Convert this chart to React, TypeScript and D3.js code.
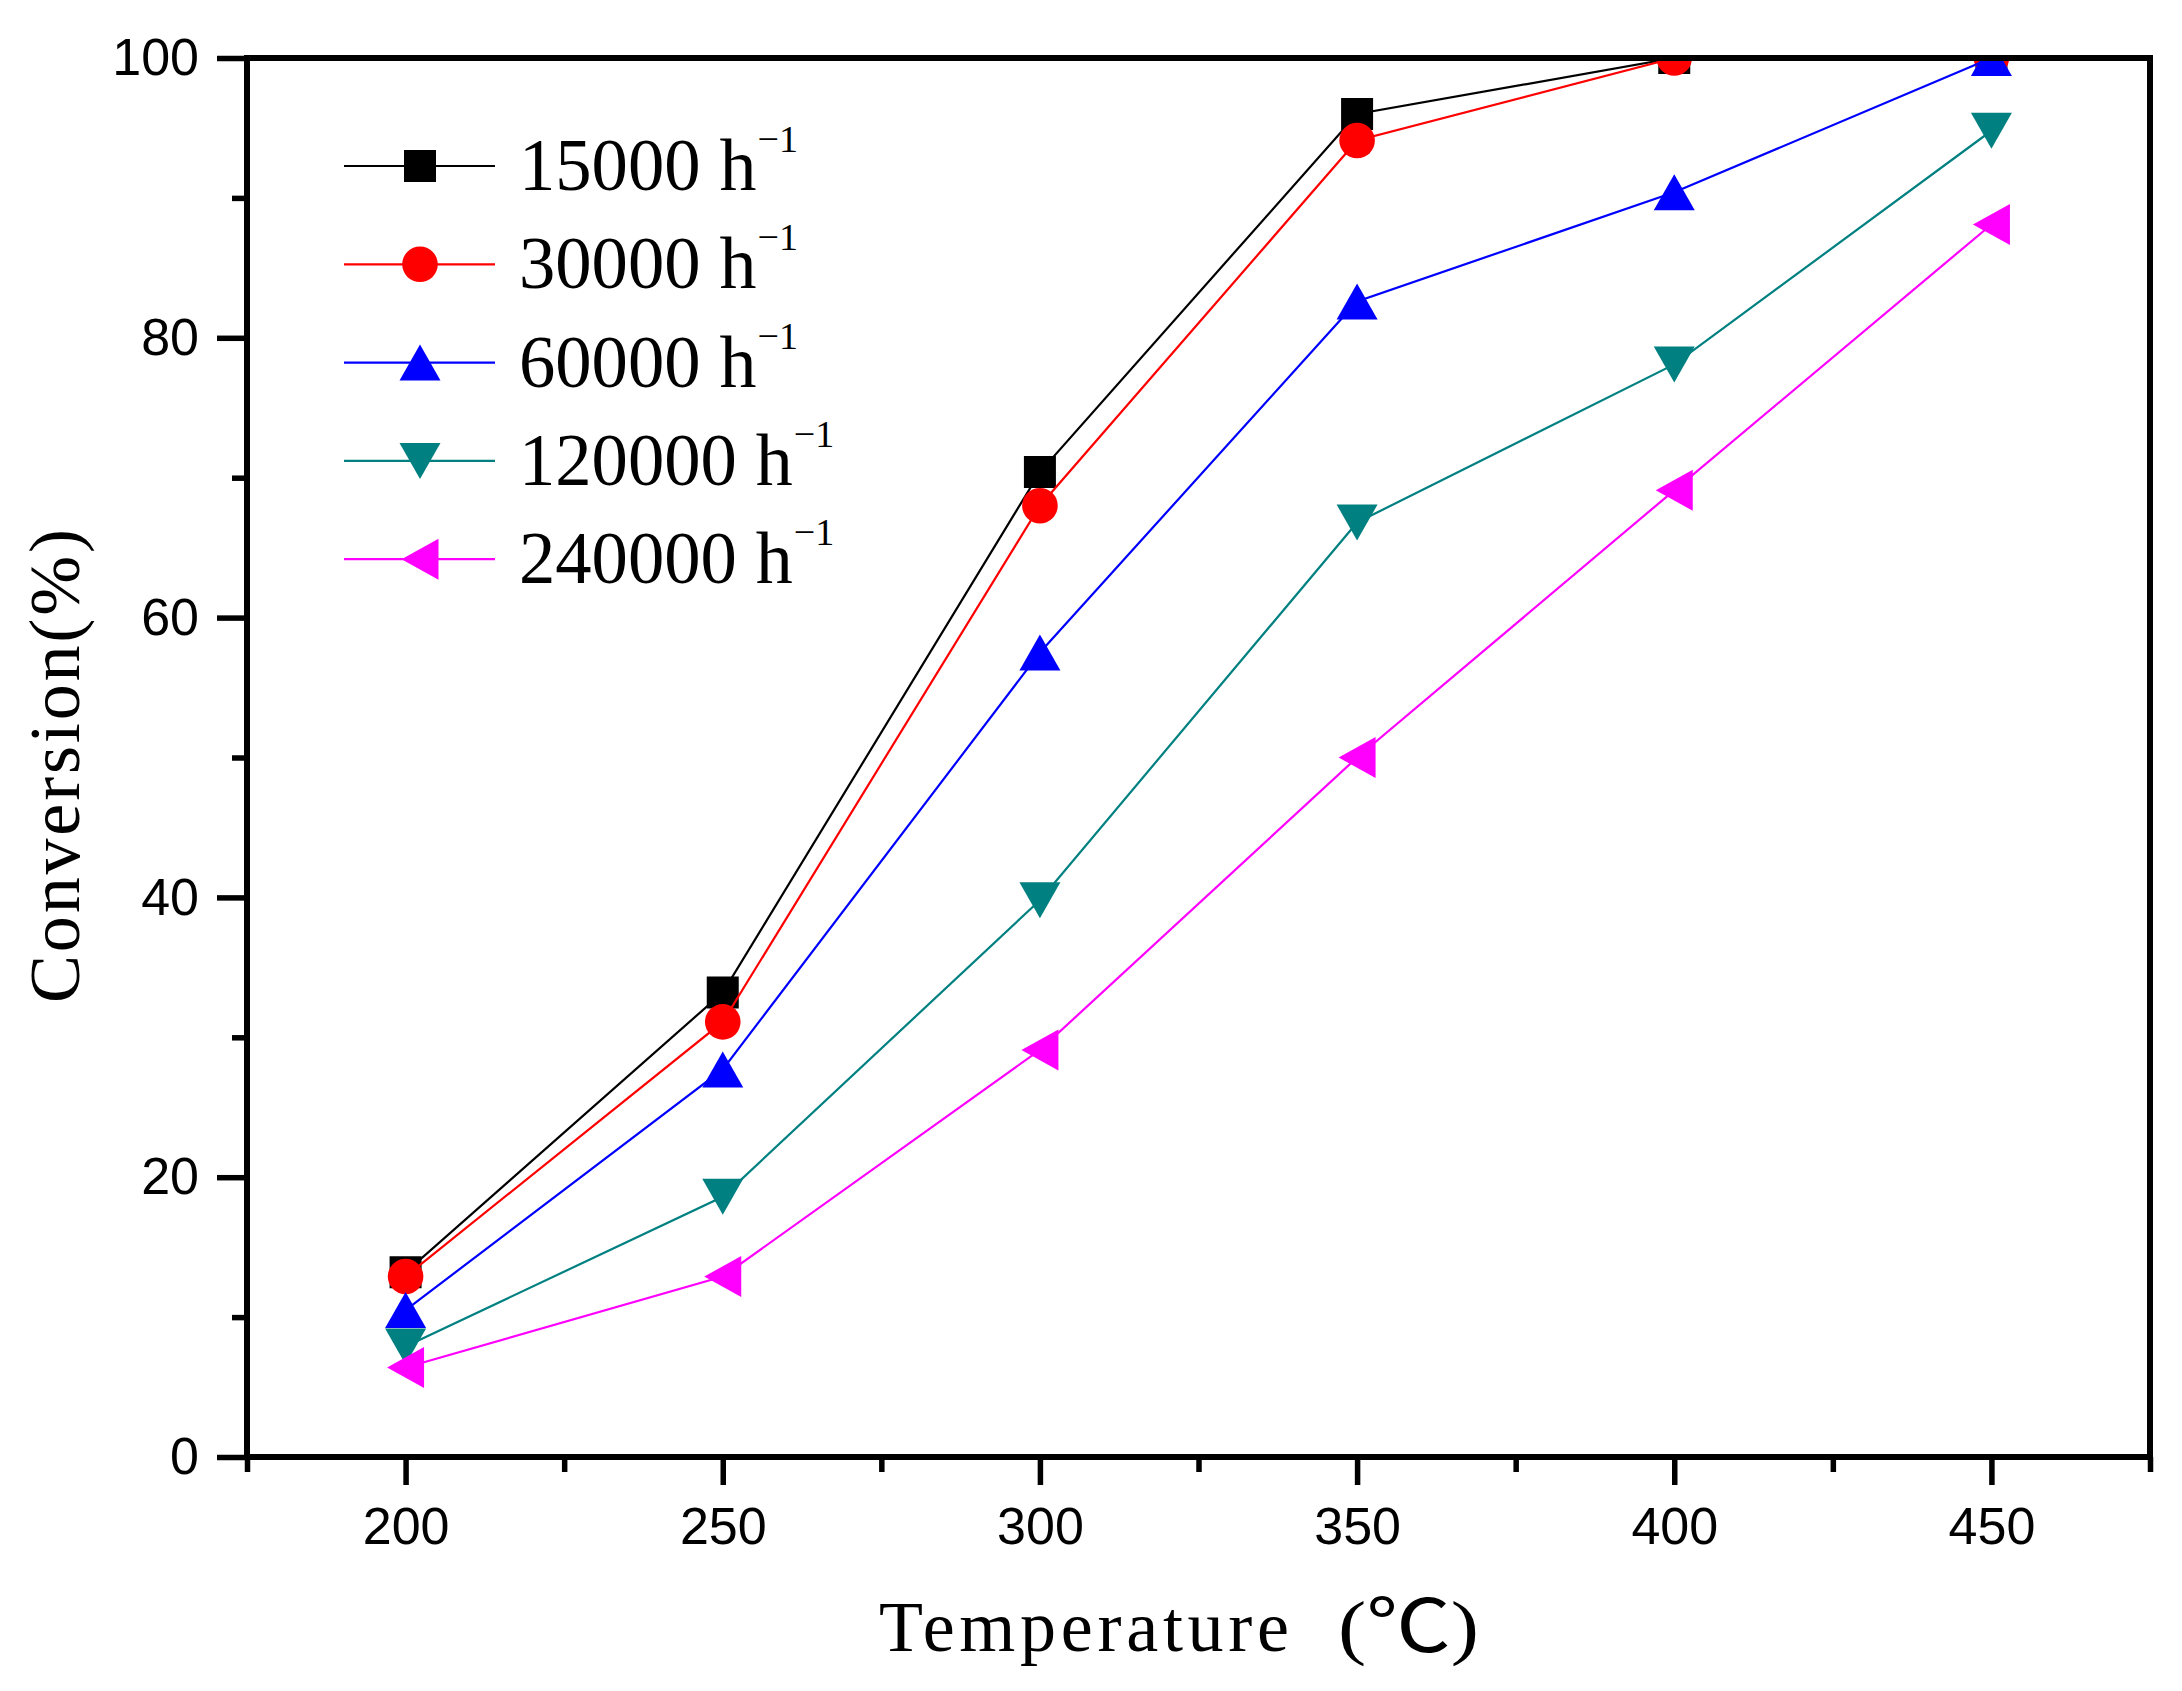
import React, { useRef, useEffect } from 'react';
import * as d3 from 'd3';

// Temperature (°C) on x, conversion (%) on y
const temps = [200, 250, 300, 350, 400, 450];

const gas15000 = [13.2, 33.2, 70.4, 96.0, 100, 100];
const gas30000 = [12.9, 31.1, 68.0, 94.1, 100, 100];
const gas60000 = [10.5, 27.7, 57.5, 82.6, 90.4, 100];
const gas120000 = [7.9, 18.6, 39.8, 66.8, 78.1, 94.8];
const gas240000 = [6.4, 12.9, 29.1, 50.0, 69.1, 88.1];

const seriesLabels = ['15000', '30000', '60000', '120000', '240000'];
const seriesColors = ['#000000', '#ff0000', '#0000ff', '#008080', '#ff00ff'];
const seriesShapes = ['square', 'circle', 'up', 'down', 'left'];

const xMajorTicks = [200, 250, 300, 350, 400, 450];
const xMinorTicks = [175, 225, 275, 325, 375, 425, 475];
const yMajorTicks = [0, 20, 40, 60, 80, 100];
const yMinorTicks = [10, 30, 50, 70, 90];

const W = 2182;
const H = 1691;

const markerPath = (shape: string) => {
  switch (shape) {
    case 'square':
      return 'M-16,-16H16V16H-16Z';
    case 'circle':
      return d3.symbol(d3.symbolCircle, Math.PI * 17.8 * 17.8)() || '';
    case 'up':
      return 'M0,-18L20.5,18L-20.5,18Z';
    case 'down':
      return 'M0,18L20.5,-18L-20.5,-18Z';
    default:
      return 'M-18.5,0L18.5,-20.5L18.5,20.5Z';
  }
};

const App: React.FC = () => {
  const svgRef = useRef<SVGSVGElement>(null);

  useEffect(() => {
    if (!svgRef.current) return;
    const svg = d3.select(svgRef.current);
    svg.selectAll('*').remove();

    const left = 247, right = 2150, top = 58, bottom = 1457;

    const x = d3.scaleLinear().domain([175, 475]).range([left, right]);
    const y = d3.scaleLinear().domain([0, 100]).range([bottom, top]);

    const allSeries = [gas15000, gas30000, gas60000, gas120000, gas240000];

    svg.append('rect').attr('width', W).attr('height', H).attr('fill', '#fff');

    svg.append('defs').append('clipPath').attr('id', 'plotClip')
      .append('rect')
      .attr('x', left).attr('y', top)
      .attr('width', right - left).attr('height', bottom - top);

    const plot = svg.append('g').attr('clip-path', 'url(#plotClip)');
    const line = d3.line<number>()
      .x((_, i) => x(temps[i]))
      .y(d => y(d));

    allSeries.forEach((vals, si) => {
      const g = plot.append('g');
      g.append('path')
        .attr('d', line(vals))
        .attr('fill', 'none')
        .attr('stroke', seriesColors[si])
        .attr('stroke-width', 2.2);
      g.selectAll('.m')
        .data(vals)
        .enter().append('path')
        .attr('transform', (d, i) => `translate(${x(temps[i])},${y(d)})`)
        .attr('d', markerPath(seriesShapes[si]))
        .attr('fill', seriesColors[si]);
    });

    // Frame
    svg.append('rect')
      .attr('x', left).attr('y', top)
      .attr('width', right - left).attr('height', bottom - top)
      .attr('fill', 'none')
      .attr('stroke', '#000')
      .attr('stroke-width', 6);

    const styleAxis = (g: d3.Selection<SVGGElement, unknown, null, undefined>) => {
      g.select('.domain').remove();
      g.selectAll('line').attr('stroke', '#000').attr('stroke-width', 5.5);
      g.selectAll('text')
        .attr('fill', '#000')
        .attr('font-family', '"Liberation Sans", Arial, sans-serif')
        .attr('font-size', 52);
    };

    // X axis
    svg.append('g')
      .attr('transform', `translate(0,${bottom})`)
      .call(d3.axisBottom(x).tickValues(xMinorTicks).tickSize(15).tickFormat(() => ''))
      .call(styleAxis);
    svg.append('g')
      .attr('transform', `translate(0,${bottom})`)
      .call(d3.axisBottom(x).tickValues(xMajorTicks).tickSize(28).tickPadding(22).tickFormat(d3.format('d')))
      .call(styleAxis);

    // Y axis
    svg.append('g')
      .attr('transform', `translate(${left},0)`)
      .call(d3.axisLeft(y).tickValues(yMinorTicks).tickSize(15).tickFormat(() => ''))
      .call(styleAxis);
    svg.append('g')
      .attr('transform', `translate(${left},0)`)
      .call(d3.axisLeft(y).tickValues(yMajorTicks).tickSize(30).tickPadding(18).tickFormat(d3.format('d')))
      .call(styleAxis);

    const serif = '"Liberation Serif", "Times New Roman", "Noto Sans CJK SC", serif';

    // Axis titles
    svg.append('text')
      .attr('x', 879).attr('y', 1651)
      .attr('font-family', serif)
      .attr('font-size', 72)
      .attr('textLength', 410)
      .attr('lengthAdjust', 'spacing')
      .text('Temperature');
    svg.append('text')
      .attr('x', 1338).attr('y', 1651)
      .attr('font-family', serif)
      .attr('font-size', 72)
      .attr('textLength', 141)
      .attr('lengthAdjust', 'spacingAndGlyphs')
      .text('(℃)');

    svg.append('text')
      .attr('transform', 'translate(79,1003) rotate(-90)')
      .attr('font-family', serif)
      .attr('font-size', 72)
      .attr('textLength', 474)
      .attr('lengthAdjust', 'spacing')
      .text('Conversion(%)');

    // Legend
    const legend = svg.append('g');
    seriesLabels.forEach((label, i) => {
      const cy = 166 + i * 98.3;
      legend.append('line')
        .attr('x1', 344).attr('x2', 495)
        .attr('y1', cy).attr('y2', cy)
        .attr('stroke', seriesColors[i])
        .attr('stroke-width', 2.2);
      legend.append('path')
        .attr('transform', `translate(420,${cy})`)
        .attr('d', markerPath(seriesShapes[i]))
        .attr('fill', seriesColors[i]);
      const numW = label.length * 36.3;
      const base = cy + 24;
      legend.append('text')
        .attr('x', 519).attr('y', base)
        .attr('font-family', serif)
        .attr('font-size', 74)
        .attr('textLength', numW)
        .attr('lengthAdjust', 'spacingAndGlyphs')
        .text(label);
      legend.append('text')
        .attr('x', 519 + numW + 19).attr('y', base)
        .attr('font-family', serif)
        .attr('font-size', 74)
        .text('h');
      legend.append('text')
        .attr('x', 519 + numW + 57).attr('y', base - 38)
        .attr('font-family', serif)
        .attr('font-size', 38)
        .text('−1');
    });
  }, []);

  return (
    <svg
      ref={svgRef}
      width={W}
      height={H}
      style={{ position: 'absolute', left: 0, top: 0, display: 'block' }}
    />
  );
};

export default App;
